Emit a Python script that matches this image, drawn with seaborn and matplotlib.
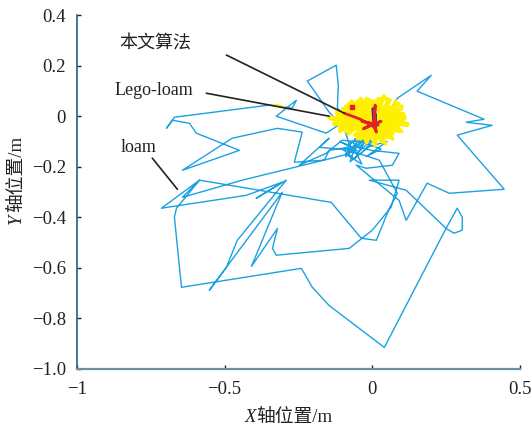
import numpy as np
import pandas as pd
import matplotlib
matplotlib.use('Agg')
import matplotlib.pyplot as plt
import seaborn as sns

# loam trajectory
loam_x = [-0.037, -0.102, -0.156, -0.247, -0.146, -0.179, -0.071, -0.095, -0.146, -0.203,
          -0.220, -0.122, -0.115, -0.118, -0.078, -0.156, -0.325, -0.257, -0.271, -0.349,
          -0.670, -0.697, -0.677, -0.619, -0.596, -0.450, -0.643, -0.474, -0.321, -0.237,
          -0.264, -0.162, -0.146, -0.058, -0.003, 0.091, 0.068, -0.020, -0.054, 0.091,
          0.115, 0.186, 0.261, 0.447, 0.288, 0.406, 0.318, 0.379, 0.152, 0.200,
          0.085, 0.024, -0.027, -0.095, -0.440, -0.643, -0.585, -0.714, -0.426, -0.305,
          -0.393, -0.291, -0.457, -0.494, -0.552, -0.305, -0.409, -0.321, -0.338, -0.325,
          -0.078, 0.000, 0.064, 0.091, -0.010, 0.115, 0.250, 0.288, 0.305, 0.305,
          0.277, 0.250, 0.041, -0.146, -0.203, -0.240, -0.646, -0.670, -0.663, -0.585,
          -0.139, -0.037, 0.014, 0.058, 0.085, 0.024, -0.078, -0.027, -0.085, -0.003,
          0.010, 0.014, -0.044, -0.07, -0.09, -0.05, -0.10, -0.06, -0.03, -0.08,
          -0.04, 0.00, -0.06, 0.03, -0.02, 0.05, -0.01, -0.075, -0.055, -0.09,
          -0.035, -0.065, 0.01, -0.045, -0.11, -0.07]
loam_y = [-0.103, -0.095, -0.147, -0.194, -0.087, -0.123, -0.135, -0.048, 0.016, 0.111,
          0.139, 0.202, 0.123, 0.032, -0.008, -0.067, 0.000, 0.063, 0.032, 0.044,
          -0.004, -0.048, -0.016, -0.028, -0.067, -0.135, -0.214, -0.087, -0.048, -0.063,
          -0.182, -0.174, -0.135, -0.119, -0.135, -0.147, -0.194, -0.206, -0.194, -0.333,
          -0.412, -0.265, -0.305, -0.289, -0.075, -0.036, -0.024, -0.012, 0.099, 0.162,
          0.071, -0.036, -0.095, -0.154, -0.253, -0.321, -0.253, -0.364, -0.313, -0.261,
          -0.325, -0.253, -0.491, -0.598, -0.689, -0.301, -0.594, -0.444, -0.523, -0.550,
          -0.523, -0.451, -0.360, -0.253, -0.253, -0.293, -0.444, -0.364, -0.400, -0.451,
          -0.463, -0.444, -0.915, -0.749, -0.677, -0.602, -0.677, -0.400, -0.364, -0.253,
          -0.341, -0.483, -0.491, -0.364, -0.305, -0.174, -0.135, -0.075, -0.115, -0.048,
          0.016, -0.055, -0.127, -0.10, -0.16, -0.12, -0.13, -0.17, -0.11, -0.14,
          -0.15, -0.10, -0.09, -0.13, -0.16, -0.10, -0.12, -0.18, -0.11, -0.15,
          -0.19, -0.12, -0.08, -0.14, -0.10, -0.12]

# Lego-loam trajectory
lego_x = [0.00, 0.11, 0.01, 0.10, -0.01, 0.09, 0.02, 0.06, 0.00, 0.04,
          0.01, 0.01, -0.01, -0.02, 0.00, -0.05, -0.02, -0.08, -0.01, -0.10,
          -0.03, -0.12, -0.02, -0.145, -0.03, -0.13, -0.01, -0.11, -0.02, -0.09,
          0.00, -0.06, -0.01, -0.04, 0.01, -0.02, 0.00, 0.01, 0.02, 0.03,
          0.01, 0.05, 0.02, 0.07, 0.01, 0.09, 0.03, 0.12, 0.02, 0.105,
          0.00, 0.075, 0.01, 0.03, -0.01, -0.035, -0.02, -0.07, -0.03, -0.115,
          -0.02, -0.08, 0.00, -0.03, 0.01, 0.04, 0.02, 0.08, 0.01,
          -0.14, -0.05, -0.12, -0.04, -0.11, -0.03, -0.09, -0.02, -0.07, 0.00,
          -0.04, 0.02, -0.01, 0.03, 0.02, 0.05, 0.05, 0.06, 0.08, 0.04,
          0.10, 0.03, 0.11, 0.05, 0.12, 0.04, 0.10, 0.02, 0.07, 0.01,
          0.045, -0.01, 0.01, -0.02, -0.02, -0.03, -0.05, -0.04, -0.08, -0.06,
          -0.11, -0.07, -0.13, -0.06, -0.09, -0.03, -0.06, 0.02, 0.00, 0.06]
lego_y = [-0.02, -0.01, -0.03, 0.03, -0.02, 0.05, -0.01, 0.065, -0.03, 0.08,
          -0.02, 0.06, -0.01, 0.07, -0.03, 0.06, -0.02, 0.05, -0.03, 0.03,
          -0.02, 0.01, -0.01, -0.005, -0.03, -0.03, -0.02, -0.05, -0.04, -0.06,
          -0.03, -0.075, -0.04, -0.09, -0.03, -0.105, -0.04, -0.115, -0.03, -0.10,
          -0.02, -0.085, -0.03, -0.07, -0.02, -0.05, -0.02, -0.035, -0.01, 0.01,
          0.00, 0.04, -0.01, 0.07, 0.00, 0.055, -0.01, 0.035, -0.02, -0.015,
          -0.03, -0.04, -0.05, -0.07, -0.04, -0.06, -0.03, -0.02, -0.02,
          -0.01, -0.03, 0.02, -0.01, -0.04, -0.05, 0.04, 0.00, 0.06, -0.02,
          0.07, -0.01, 0.065, -0.04, 0.07, -0.02, 0.07, -0.05, 0.06, -0.06,
          0.04, -0.03, 0.00, -0.04, -0.03, -0.01, -0.06, -0.05, -0.09, -0.03,
          -0.11, -0.04, -0.115, -0.03, -0.10, -0.02, -0.09, -0.03, -0.07, -0.02,
          -0.06, -0.01, -0.03, 0.01, 0.035, -0.01, 0.05, 0.00, 0.06, 0.02]
lego_tail_x = [-0.33, -0.30]
lego_tail_y = [0.045, 0.035]

# proposed method (本文算法)
ours_x = [-0.095, -0.04, -0.003, 0.008, 0.010, 0.006, 0.014, 0.004, -0.035, 0.02,
          0.0, -0.03, 0.03, 0.005]
ours_y = [0.012, -0.012, -0.036, -0.02, 0.044, -0.02, -0.063, -0.03, -0.02, -0.035,
          -0.03, -0.05, -0.02, -0.03]
navy_x = [0.002, 0.006, 0.010, 0.012]
navy_y = [0.030, -0.045, 0.010, -0.040]

x_ticks = [-1, -0.5, 0, 0.5]
x_tick_labels = ['\u22121', '\u22120.5', '0', '0.5']
y_ticks = [0.4, 0.2, 0, -0.2, -0.4, -0.6, -0.8, -1.0]
y_tick_labels = ['0.4', '0.2', '0', '\u22120.2', '\u22120.4', '\u22120.6', '\u22120.8', '\u22121.0']

sns.set_style('ticks')
plt.rcParams['font.family'] = ['Liberation Serif', 'Noto Sans CJK SC']

fig = plt.figure(figsize=(5.31, 4.32), dpi=100)
ax = fig.add_axes([0.145, 0.146, 0.834, 0.819])

sns.lineplot(x=loam_x, y=loam_y, sort=False, estimator=None, color='#1ba1e2',
             linewidth=1.0, ax=ax, legend=False)
sns.lineplot(x=lego_x, y=lego_y, sort=False, estimator=None, color='#fff000',
             linewidth=2.6, ax=ax, legend=False)
sns.lineplot(x=lego_tail_x, y=lego_tail_y, sort=False, estimator=None, color='#fff000',
             linewidth=2.0, ax=ax, legend=False)
sns.lineplot(x=navy_x, y=navy_y, sort=False, estimator=None, color='#2b3990',
             linewidth=2.0, ax=ax, legend=False)
sns.lineplot(x=ours_x, y=ours_y, sort=False, estimator=None, color='#e8202a',
             linewidth=2.0, ax=ax, legend=False)
ax.plot([-0.068], [0.036], 's', color='#e8202a', markersize=2.5)

# leader lines + labels
ax.plot([-0.494, -0.095], [0.242, 0.012], color='#222222', linewidth=1.2)
ax.plot([-0.562, -0.146], [0.091, 0.000], color='#222222', linewidth=1.2)
ax.plot([-0.745, -0.660], [-0.166, -0.289], color='#222222', linewidth=1.2)
ax.text(-0.734, 0.285, '本文算法', fontsize=13, ha='center', va='center', color='#222222')
ax.text(-0.741, 0.103, 'Lego-loam', fontsize=13, ha='center', va='center', color='#222222')
ax.text(-0.792, -0.123, 'loam', fontsize=13, ha='center', va='center', color='#222222')

ax.set_xlim(-1, 0.5)
ax.set_ylim(-1.0, 0.4)
ax.set_xticks(x_ticks)
ax.set_xticklabels(x_tick_labels)
ax.set_yticks(y_ticks)
ax.set_yticklabels(y_tick_labels)
ax.tick_params(axis='both', direction='in', length=3, width=1, labelsize=13.5, colors='#222222')
ax.tick_params(axis='x', pad=9)
ax.tick_params(axis='y', pad=8)
sns.despine(ax=ax)
ax.spines['left'].set_color('#2a5f85')
ax.spines['bottom'].set_color('#6d8fa3')
ax.spines['left'].set_linewidth(1.2)
ax.spines['bottom'].set_linewidth(1.6)
ax.set_xlabel('')
ax.set_ylabel('')

# axis labels with italic letter
tx = fig.text(245 / 531, 1 - 426 / 432, 'X', fontsize=13.5, style='italic',
              ha='left', va='bottom', color='#222222')
ax.annotate('轴位置/m', xy=(1, 0), xycoords=tx, ha='left', va='bottom',
            fontsize=13.5, color='#222222', annotation_clip=False)
ty = fig.text(8 / 531, 1 - 224 / 432, 'Y', fontsize=13.5, style='italic',
              rotation=90, ha='left', va='bottom', color='#222222')
ax.annotate('轴位置/m', xy=(0, 1), xycoords=ty, xytext=(0, 1.5), textcoords='offset points',
            ha='left', va='bottom', rotation=90, fontsize=13.5, color='#222222',
            annotation_clip=False)

fig.savefig('out.png', dpi=100)
